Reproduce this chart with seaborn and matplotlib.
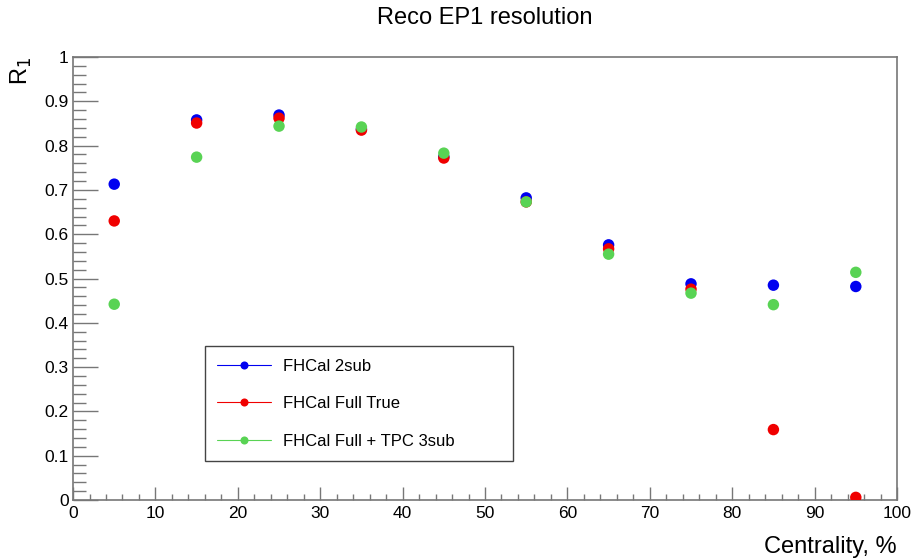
import matplotlib
matplotlib.use("Agg")
import matplotlib.pyplot as plt
import seaborn as sns
import pandas as pd
from matplotlib.lines import Line2D
from matplotlib.ticker import MultipleLocator

sns.set_style("white")
plt.rcParams['font.family'] = ['Liberation Sans', 'DejaVu Sans']
plt.rcParams['text.color'] = 'black'
plt.rcParams['axes.labelcolor'] = 'black'
plt.rcParams['xtick.color'] = 'black'
plt.rcParams['ytick.color'] = 'black'

centrality = [5, 15, 25, 35, 45, 55, 65, 75, 85, 95]
fhcal_2sub = [0.713, 0.858, 0.869, 0.837, 0.775, 0.682, 0.576, 0.488, 0.485, 0.482]
fhcal_full_true = [0.630, 0.851, 0.862, 0.835, 0.772, 0.673, 0.567, 0.476, 0.159, 0.006]
fhcal_full_tpc_3sub = [0.442, 0.774, 0.844, 0.842, 0.783, 0.673, 0.555, 0.467, 0.441, 0.514]
series_names = ["FHCal 2sub", "FHCal Full True", "FHCal Full + TPC 3sub"]
colors = ["#0000f0", "#f00000", "#59d354"]

frames = []
for name, vals in zip(series_names, [fhcal_2sub, fhcal_full_true, fhcal_full_tpc_3sub]):
    frames.append(pd.DataFrame({"Centrality": centrality, "R1": vals, "series": name}))
df = pd.concat(frames, ignore_index=True)

fig = plt.figure(figsize=(9.14, 5.59), dpi=100)
ax = fig.add_axes([0.0799, 0.1055, 0.9015, 0.7925])

for name, col in zip(series_names, colors):
    sub = df[df["series"] == name]
    sns.scatterplot(data=sub, x="Centrality", y="R1", color=col, s=68,
                    edgecolor="none", linewidth=0, ax=ax, legend=False, zorder=3)

ax.set_xlim(0, 100)
ax.set_ylim(0, 1)
ax.xaxis.set_minor_locator(MultipleLocator(2))
ax.yaxis.set_minor_locator(MultipleLocator(0.02))
ax.set_xticks(range(0, 101, 10))
ax.set_xticklabels([str(v) for v in range(0, 101, 10)])
ax.set_yticks([i / 10 for i in range(11)])
ax.set_yticklabels(["0"] + [f"{i/10:.1f}" for i in range(1, 10)] + ["1"])

gray = "#777777"
for sp in ax.spines.values():
    sp.set_color(gray)
    sp.set_linewidth(1.2)
    sp.set_visible(True)

ax.tick_params(axis="x", which="major", direction="in", length=9.5, width=1, color=gray,
               labelsize=12.5, pad=4, top=False, bottom=True, labelcolor="black")
ax.tick_params(axis="x", which="minor", direction="in", length=4.5, width=1, color=gray,
               top=False, bottom=True)
ax.tick_params(axis="y", which="major", direction="in", length=18, width=1, color=gray,
               labelsize=12.5, pad=3, left=True, right=False, labelcolor="black")
ax.tick_params(axis="y", which="minor", direction="in", length=9.5, width=1, color=gray,
               left=True, right=False)

ax.set_xlabel("Centrality, %", fontsize=17, loc="right", labelpad=11, color="black")
ax.set_ylabel("R$_1$", fontsize=17, loc="top", labelpad=8, color="black")
ax.set_title("Reco EP1 resolution", fontsize=17, pad=0, color="black", y=1.0)
ax.title.set_position((0.5, 1.0))
fig.texts.clear()
ax.set_title("")
fig.text(0.0799 + 0.9015 / 2, 1 - 18 / 559, "Reco EP1 resolution", fontsize=17,
         ha="center", va="center", color="black")

handles = [Line2D([0], [0], color=c, lw=0.8, marker="o", markersize=5.8,
                  markeredgewidth=0, markerfacecolor=c) for c in colors]
leg = ax.legend(handles, series_names, loc="lower left",
                bbox_to_anchor=(0.160, 0.088, 0.374, 0.264), mode="expand",
                fontsize=12, frameon=True, fancybox=False, framealpha=1,
                edgecolor="#444444", handlelength=3.2, handletextpad=0.75,
                labelspacing=1.35, borderpad=0.75, borderaxespad=0)
leg.get_frame().set_linewidth(1.0)
for t in leg.get_texts():
    t.set_color("black")

fig.savefig("out.png", dpi=100)
